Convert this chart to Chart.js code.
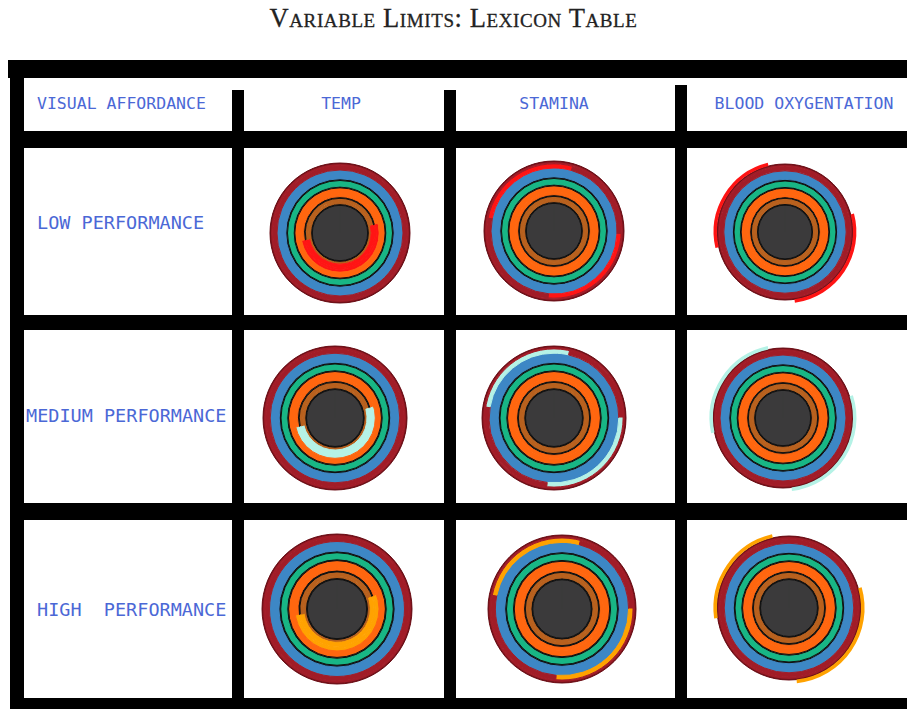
<!DOCTYPE html>
<html><head><meta charset="utf-8">
<script src="https://cdn.jsdelivr.net/npm/chart.js@4.4.0/dist/chart.umd.min.js"></script>
<style>
html,body{margin:0;padding:0;background:#fff;overflow:hidden;}
#page{position:relative;width:907px;height:709px;background:#fff;}
.bar{position:absolute;background:#000;}
.lbl{position:absolute;font-family:'DejaVu Sans Mono',monospace;color:#4b68d6;white-space:pre;line-height:20px;height:20px;}
#title{position:absolute;left:0;width:907px;top:3px;text-align:center;font-family:'Liberation Serif',serif;font-variant:small-caps;font-size:26.5px;color:#222;letter-spacing:0.6px;-webkit-text-stroke:0.3px #222;}
canvas{position:absolute;}
</style></head><body><div id="page"></div>
<script>
// ---------- data ----------
const titleText = 'Variable Limits: Lexicon Table';
const headerLabels = ['VISUAL AFFORDANCE', 'TEMP', 'STAMINA', 'BLOOD OXYGENTATION'];
const rowLabels = ['LOW PERFORMANCE', 'MEDIUM PERFORMANCE', 'HIGH  PERFORMANCE'];
const highlightColors = ['#ff1414', '#b5f2e6', '#ffa200'];           // low, medium, high
// highlight arcs, degrees clockwise from 12 o'clock: [start, end]
const tempArcs    = [[[77, 259]], [[74, 257]], [[71, 262]]];
const staminaArcs = [[[282, 16], [93, 185]], [[280, 13], [90, 186]], [[282, 15], [90, 185]]];
const bloodArcs   = [[[257, 346], [75, 172]], [[258, 348], [72, 173]], [[262, 347], [74, 174]]];
// ring layers, outside -> inside
const ringNames   = ['halo', 'rim', 'redOuter', 'redInner', 'blue', 'line1', 'green', 'line2', 'orange', 'orangeInner', 'line3', 'brownOuter', 'brownInner', 'line4', 'core'];
const ringColors  = ['rgba(0,0,0,0)', '#6e1018', '#a11c27', '#a11c27', '#3d87c5', '#111111', '#18b685', '#111111', '#ff660f', '#ff660f', '#111111', '#b8601d', '#b8601d', '#111111', '#3b3a3b'];
const ringWeights = [0.05, 0.008, 0.032, 0.06, 0.125, 0.025, 0.08, 0.025, 0.085, 0.04, 0.025, 0.05, 0.025, 0.025, 0.395];
// which layers carry the highlight for each column
const columnHighlightLayers = [['orangeInner', 'line3', 'brownOuter'], ['redInner'], ['halo']];
const columnArcs = [tempArcs, staminaArcs, bloodArcs];

// ---------- layout (positions only) ----------
const bars = [
  [8, 60, 899, 18], [10, 60, 14, 649],
  [232, 90, 12, 58], [444, 90, 12, 58], [675, 85, 12, 63],
  [24, 131, 883, 17],
  [232, 148, 12, 561], [444, 148, 12, 561], [675, 148, 12, 561],
  [10, 315, 897, 15], [10, 503, 897, 17], [10, 698, 897, 11]
];
const headerPos = [[37, 104, 'left'], [341, 104, 'center'], [554, 104, 'center'], [804, 104, 'center']];
const headerFont = 16.5;
const rowPos = [[37, 223], [26, 416], [37, 610]];
const rowFont = 18.5;
// circle centers and radii [cx, cy, R] per row, per column
const circles = [
  [[340, 233, 70], [554, 231, 70], [785, 232, 68]],
  [[335, 418, 72], [554, 418, 72], [783, 418, 70]],
  [[337, 609, 75], [562, 609, 74], [789, 608, 72]]
];

const page = document.getElementById('page');
const t = document.createElement('div'); t.id = 'title'; t.textContent = titleText; page.appendChild(t);
bars.forEach(([x, y, w, h]) => {
  const d = document.createElement('div'); d.className = 'bar';
  Object.assign(d.style, {left: x + 'px', top: y + 'px', width: w + 'px', height: h + 'px'});
  page.appendChild(d);
});
headerLabels.forEach((txt, i) => {
  const [x, y, al] = headerPos[i];
  const d = document.createElement('div'); d.className = 'lbl'; d.textContent = txt;
  d.style.fontSize = headerFont + 'px'; d.style.top = (y - 10) + 'px';
  if (al === 'left') d.style.left = x + 'px';
  else { d.style.left = (x - 150) + 'px'; d.style.width = '300px'; d.style.textAlign = 'center'; }
  page.appendChild(d);
});
rowLabels.forEach((txt, i) => {
  const [x, y] = rowPos[i];
  const d = document.createElement('div'); d.className = 'lbl'; d.textContent = txt;
  d.style.fontSize = rowFont + 'px'; d.style.top = (y - 10) + 'px'; d.style.left = x + 'px';
  page.appendChild(d);
});

function segments(arcs, hi, base) {
  const iv = [];
  arcs.forEach(([s, e]) => { if (e < s) { iv.push([s, 360]); iv.push([0, e]); } else iv.push([s, e]); });
  iv.sort((a, b) => a[0] - b[0]);
  const data = [], colors = [];
  let pos = 0;
  iv.forEach(([s, e]) => {
    if (s > pos) { data.push(s - pos); colors.push(base); }
    data.push(e - s); colors.push(hi); pos = e;
  });
  if (pos < 360) { data.push(360 - pos); colors.push(base); }
  return {data, colors};
}

const SIZE = 190;
rowLabels.forEach((_, r) => {
  headerLabels.slice(1).forEach((_, c) => {
    const [cx, cy, R] = circles[r][c];
    const cv = document.createElement('canvas');
    cv.width = SIZE; cv.height = SIZE;
    cv.style.left = (cx - SIZE / 2) + 'px'; cv.style.top = (cy - SIZE / 2) + 'px';
    page.appendChild(cv);
    const datasets = ringNames.map((name, k) => {
      let seg = {data: [360], colors: [ringColors[k]]};
      if (columnHighlightLayers[c].includes(name)) seg = segments(columnArcs[c][r], highlightColors[r], ringColors[k]);
      return {label: name, data: seg.data, backgroundColor: seg.colors, borderColor: seg.colors,
              borderWidth: name === 'halo' ? 0 : 1, weight: ringWeights[k]};
    });
    const totalW = ringWeights.reduce((a, b) => a + b, 0);
    new Chart(cv, {
      type: 'doughnut',
      data: {datasets},
      options: {
        responsive: false, animation: false, events: [],
        cutout: 0, radius: R * totalW, rotation: 0, circumference: 360,
        layout: {padding: 0},
        plugins: {legend: {display: false}, tooltip: {enabled: false}, title: {display: false}}
      }
    });
  });
});
</script></body></html>
